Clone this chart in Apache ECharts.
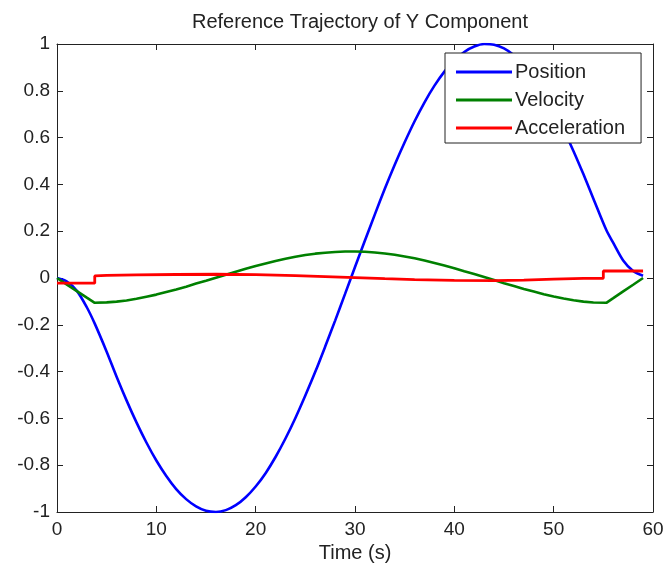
<!DOCTYPE html>
<html>
<head>
<meta charset="utf-8">
<title>Reference Trajectory of Y Component</title>
<script src="https://cdn.jsdelivr.net/npm/echarts@6/dist/echarts.min.js"></script>
<style>
  html, body { margin: 0; padding: 0; background: #fff; }
  #chart { width: 668px; height: 576px; }
</style>
</head>
<body>
<div id="chart"></div>
<script>
// Sample times (s) for position and velocity
var timeS = [0, 1, 2, 3, 3.8, 5, 6, 7, 8, 9, 10, 11, 12, 13, 14, 15, 16, 17, 18, 19,
  20, 21, 22, 23, 24, 25, 26, 27, 28, 29, 30, 31, 32, 33, 34, 35, 36, 37, 38, 39,
  40, 41, 42, 43, 44, 45, 46, 47, 48, 49, 50, 51, 52, 53, 54, 55.3, 56, 57, 58, 59];

// Y position
var positionY = [0, -0.015, -0.055, -0.125, -0.195, -0.315, -0.422, -0.523, -0.617, -0.703,
  -0.780, -0.846, -0.902, -0.945, -0.976, -0.995, -1.000, -0.992, -0.971, -0.937,
  -0.891, -0.834, -0.765, -0.686, -0.598, -0.502, -0.401, -0.293, -0.182, -0.068,
  0.047, 0.160, 0.272, 0.381, 0.484, 0.580, 0.670, 0.751, 0.822, 0.882,
  0.930, 0.966, 0.989, 1.000, 0.997, 0.981, 0.952, 0.910, 0.857, 0.793,
  0.718, 0.634, 0.542, 0.443, 0.339, 0.205, 0.150, 0.075, 0.030, 0.010];

// Y velocity
var velocityY = [0, -0.028, -0.056, -0.084, -0.106, -0.104, -0.101, -0.096, -0.089, -0.080,
  -0.071, -0.060, -0.049, -0.037, -0.024, -0.012, 0.001, 0.014, 0.027, 0.039,
  0.051, 0.062, 0.073, 0.082, 0.091, 0.098, 0.104, 0.108, 0.111, 0.113,
  0.113, 0.112, 0.109, 0.105, 0.099, 0.092, 0.084, 0.075, 0.064, 0.053,
  0.042, 0.029, 0.017, 0.004, -0.009, -0.022, -0.034, -0.047, -0.058, -0.069,
  -0.079, -0.088, -0.095, -0.101, -0.105, -0.106, -0.086, -0.057, -0.029, 0];

// Y acceleration (piecewise, with jumps at the blend boundaries)
var accelTimeS = [0, 3.8, 3.8, 5, 8, 12, 16, 20, 24, 27, 30, 33, 36, 40, 44, 47, 50, 53, 55, 55, 59];
var accelY = [-0.022, -0.022, 0.009, 0.011, 0.013, 0.015, 0.016, 0.014, 0.010, 0.006,
  0.002, -0.003, -0.007, -0.010, -0.011, -0.009, -0.005, -0.002, -0.001, 0.030, 0.030];

function pairs(xs, ys) {
  return xs.map(function (x, i) { return [x, ys[i]]; });
}

var ink = '#222';
var fontFamily = '"Liberation Sans", Arial, sans-serif';

var chart = echarts.init(document.getElementById('chart'), null, { renderer: 'canvas' });

var frameAxisLine = { show: true, onZero: false, lineStyle: { color: ink, width: 1 } };
var innerTick = { show: true, inside: true, length: 6, lineStyle: { color: ink, width: 1 } };

chart.setOption({
  backgroundColor: '#fff',
  animation: false,
  title: {
    text: 'Reference Trajectory of Y Component',
    left: 355,
    textAlign: 'center',
    top: 7,
    textStyle: { fontFamily: fontFamily, fontSize: 20, fontWeight: 'normal', color: ink }
  },
  legend: {
    orient: 'vertical',
    left: 445,
    top: 53,
    padding: [9, 16, 5, 11],
    icon: 'rect',
    itemWidth: 56,
    itemHeight: 3,
    itemGap: 8,
    backgroundColor: '#fff',
    borderColor: ink,
    borderWidth: 1,
    borderRadius: 0,
    textStyle: { fontFamily: fontFamily, fontSize: 20, color: ink, lineHeight: 20, padding: [0, 0, 0, -2] },
    data: ['Position', 'Velocity', 'Acceleration']
  },
  grid: { left: 57, right: 15, top: 44, bottom: 64, containLabel: false },
  xAxis: [
    {
      type: 'value', position: 'bottom', min: 0, max: 60, interval: 10,
      name: 'Time (s)', nameLocation: 'middle', nameGap: 25,
      nameTextStyle: { fontFamily: fontFamily, fontSize: 20, color: ink },
      axisLine: frameAxisLine, axisTick: innerTick,
      axisLabel: { fontFamily: fontFamily, fontSize: 19, color: ink, margin: 8 },
      splitLine: { show: false }
    },
    {
      type: 'value', position: 'top', min: 0, max: 60, interval: 10,
      axisLine: frameAxisLine, axisTick: innerTick,
      axisLabel: { show: false }, splitLine: { show: false }
    }
  ],
  yAxis: [
    {
      type: 'value', position: 'left', min: -1, max: 1, interval: 0.2,
      axisLine: frameAxisLine, axisTick: innerTick,
      axisLabel: { fontFamily: fontFamily, fontSize: 19, color: ink, margin: 7 },
      splitLine: { show: false }
    },
    {
      type: 'value', position: 'right', min: -1, max: 1, interval: 0.2,
      axisLine: frameAxisLine, axisTick: innerTick,
      axisLabel: { show: false }, splitLine: { show: false }
    }
  ],
  series: [
    {
      name: 'Position', type: 'line', xAxisIndex: 0, yAxisIndex: 0,
      data: pairs(timeS, positionY), symbol: 'none', smooth: 0.3,
      lineStyle: { color: '#0000ff', width: 2.6 }, itemStyle: { color: '#0000ff' }, z: 3
    },
    {
      name: 'Velocity', type: 'line', xAxisIndex: 0, yAxisIndex: 0,
      data: pairs(timeS, velocityY), symbol: 'none',
      lineStyle: { color: '#008000', width: 2.6 }, itemStyle: { color: '#008000' }, z: 4
    },
    {
      name: 'Acceleration', type: 'line', xAxisIndex: 0, yAxisIndex: 0,
      data: pairs(accelTimeS, accelY), symbol: 'none',
      lineStyle: { color: '#ff0000', width: 2.8 }, itemStyle: { color: '#ff0000' }, z: 5
    }
  ]
});
</script>
</body>
</html>
